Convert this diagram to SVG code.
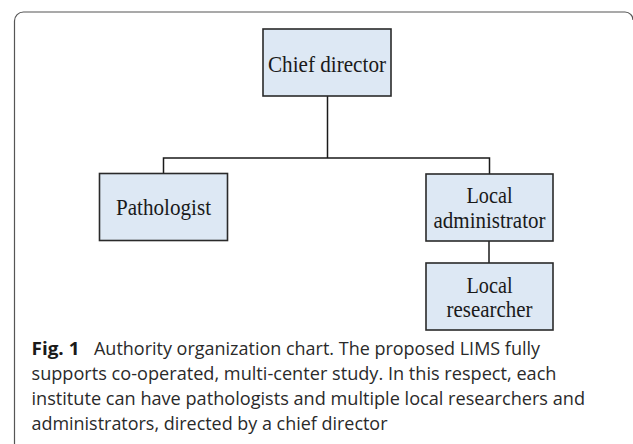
<svg xmlns="http://www.w3.org/2000/svg" width="633" height="444" viewBox="0 0 633 444">
  <style>
    .box { fill: #dde8f4; stroke: #2a2a2a; stroke-width: 1.6; }
    .lbl { font-family: "Liberation Serif", "Times New Roman", serif; font-size: 23px; fill: #1a1a1a; text-anchor: middle; }
    .wire { stroke: #1a1a1a; stroke-width: 1.5; fill: none; }
    .frame { stroke: #555; stroke-width: 1.2; fill: none; }
    .cap { font-family: "Open Sans", "Noto Sans", sans-serif; font-size: 17.5px; fill: #2a2a2a; }
    .capb { font-family: "Open Sans", "Noto Sans", sans-serif; font-size: 17.5px; font-weight: bold; fill: #1a1a1a; }
  </style>
  <rect width="633" height="444" fill="#ffffff"/>
  <path class="frame" d="M14.5,444 V21 A9,9 0 0 1 23.5,12 H625 A8,8 0 0 1 633,20"/>

  <g id="connectors">
    <line class="wire" x1="327.5" y1="96" x2="327.5" y2="158"/>
    <polyline class="wire" points="163.5,173 163.5,158 489.5,158 489.5,174"/>
    <line class="wire" x1="489" y1="241" x2="489" y2="263"/>
  </g>

  <g id="chief-director">
    <rect class="box" x="263" y="29" width="128" height="67"/>
    <text class="lbl" x="327" y="71.5" textLength="118" lengthAdjust="spacingAndGlyphs">Chief director</text>
  </g>
  <g id="pathologist">
    <rect class="box" x="99.5" y="173.5" width="128" height="67"/>
    <text class="lbl" x="163.5" y="215" textLength="95" lengthAdjust="spacingAndGlyphs">Pathologist</text>
  </g>
  <g id="local-administrator">
    <rect class="box" x="426" y="174" width="127" height="67"/>
    <text class="lbl" x="489.5" y="203" textLength="46" lengthAdjust="spacingAndGlyphs">Local</text>
    <text class="lbl" x="489.5" y="228" textLength="112" lengthAdjust="spacingAndGlyphs">administrator</text>
  </g>
  <g id="local-researcher">
    <rect class="box" x="426" y="263" width="127" height="67"/>
    <text class="lbl" x="489.5" y="292.5" textLength="46" lengthAdjust="spacingAndGlyphs">Local</text>
    <text class="lbl" x="489.5" y="316.5" textLength="86" lengthAdjust="spacingAndGlyphs">researcher</text>
  </g>

  <g id="caption">
    <text class="capb" x="31.5" y="355" textLength="48" lengthAdjust="spacingAndGlyphs">Fig. 1</text>
    <text class="cap" x="94" y="355" textLength="446" lengthAdjust="spacingAndGlyphs">Authority organization chart. The proposed LIMS fully</text>
    <text class="cap" x="31.5" y="380" textLength="525" lengthAdjust="spacingAndGlyphs">supports co-operated, multi-center study. In this respect, each</text>
    <text class="cap" x="31.5" y="405" textLength="553.5" lengthAdjust="spacingAndGlyphs">institute can have pathologists and multiple local researchers and</text>
    <text class="cap" x="31.5" y="430" textLength="356" lengthAdjust="spacingAndGlyphs">administrators, directed by a chief director</text>
  </g>
</svg>
